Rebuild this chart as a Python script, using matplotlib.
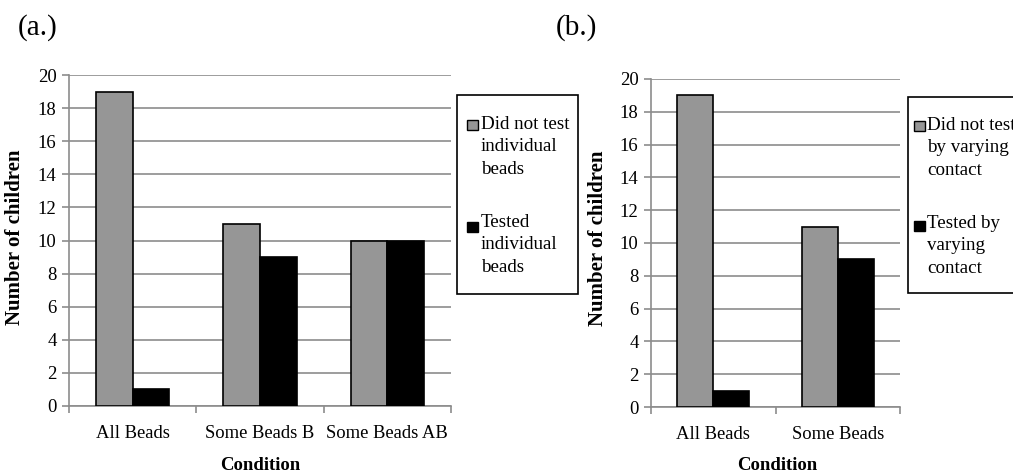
import numpy as np
import matplotlib
matplotlib.use("Agg")
import matplotlib.pyplot as plt
from matplotlib.patches import Rectangle

plt.rcParams['font.family'] = ['Liberation Serif', 'DejaVu Serif']

# panel (a) data
cond_a = ["All Beads", "Some Beads B", "Some Beads AB"]
not_tested_a = [19, 11, 10]
tested_a = [1, 9, 10]
legend_a = ["Did not test\nindividual\nbeads", "Tested\nindividual\nbeads"]

# panel (b) data
cond_b = ["All Beads", "Some Beads"]
not_tested_b = [19, 11]
tested_b = [1, 9]
legend_b = ["Did not test\nby varying\ncontact", "Tested by\nvarying\ncontact"]

y_ticks = list(range(0, 21, 2))

GREY = "#969696"
GRID = "#8c8c8c"
W, H = 1013, 474

fig = plt.figure(figsize=(W / 100, H / 100), dpi=100)


def px_box(x0, y0, x1, y1):
    # pixel box (from top-left) -> figure fraction [l, b, w, h]
    return [x0 / W, 1 - y1 / H, (x1 - x0) / W, (y1 - y0) / H]


def draw_panel(box, cats, s1, s2, bw, ylab_px, xlab_px):
    x0, y0, x1, y1 = box
    ax = fig.add_axes(px_box(*box))
    x = np.arange(len(cats))
    ax.bar(x - bw / 2, s1, bw, color=GREY, edgecolor="black", linewidth=1.2, zorder=3)
    ax.bar(x + bw / 2, s2, bw, color="black", edgecolor="black", linewidth=1.2, zorder=3)
    ax.set_xlim(-0.5, len(cats) - 0.5)
    ax.set_ylim(0, 20)
    ax.set_yticks(y_ticks)
    ax.yaxis.grid(True, color=GRID, linewidth=1.2, zorder=0)
    ax.set_axisbelow(True)
    for s in ["top", "right"]:
        ax.spines[s].set_visible(False)
    for s in ["left", "bottom"]:
        ax.spines[s].set_color(GRID)
        ax.spines[s].set_linewidth(1.2)
    ax.set_xticks(x)
    ax.set_xticklabels(cats, fontsize=13.4)
    ax.tick_params(axis="x", which="major", length=0, pad=14)
    ax.set_xticks(np.arange(len(cats) + 1) - 0.5, minor=True)
    ax.tick_params(axis="x", which="minor", length=5, color=GRID, width=1.2)
    ax.tick_params(axis="y", length=5, color=GRID, width=1.2, labelsize=13.5, pad=4)
    ax.set_ylabel("Number of children", fontsize=15, fontweight="bold")
    ax.set_xlabel("Condition", fontsize=13.5, fontweight="bold")
    # label centres given in pixels
    ax.yaxis.set_label_coords((ylab_px[0] - x0) / (x1 - x0), (y1 - ylab_px[1]) / (y1 - y0))
    ax.xaxis.set_label_coords((xlab_px[0] - x0) / (x1 - x0), (y1 - xlab_px[1]) / (y1 - y0))
    ax.yaxis.label.set_va("center")
    ax.xaxis.label.set_va("center")
    return ax


def draw_legend(box, entries, marker_x, marker_ys, text_x, text_ys):
    l, b, w, h = px_box(*box)
    fig.patches.append(Rectangle((l, b), w, h, transform=fig.transFigure,
                                 facecolor="white", edgecolor="black", linewidth=1.2))
    for (label, color), my, ty in zip(entries, marker_ys, text_ys):
        ml, mb, mw, mh = px_box(marker_x, my, marker_x + 11, my + 10)
        fig.patches.append(Rectangle((ml, mb), mw, mh, transform=fig.transFigure,
                                     facecolor=color, edgecolor="black", linewidth=1.0))
        fig.text(text_x / W, 1 - ty / H, label, fontsize=13.7, va="top", ha="left",
                 linespacing=1.42)


draw_panel((69, 75, 451, 406), cond_a, not_tested_a, tested_a, 0.287, (15, 237), (260, 465))
draw_panel((651, 79, 900, 407), cond_b, not_tested_b, tested_b, 0.29, (598, 238), (777, 466))

draw_legend((457, 95, 578, 294), [(legend_a[0], GREY), (legend_a[1], "black")],
            467, [120, 222], 481, [116, 214])
draw_legend((908, 97, 1030, 293), [(legend_b[0], GREY), (legend_b[1], "black")],
            914, [121, 221], 927, [117, 215])

fig.text(18 / W, 1 - 28 / H, "(a.)", fontsize=21, va="center", ha="left")
fig.text(556 / W, 1 - 28 / H, "(b.)", fontsize=21, va="center", ha="left")

fig.savefig("out.png", dpi=100)
